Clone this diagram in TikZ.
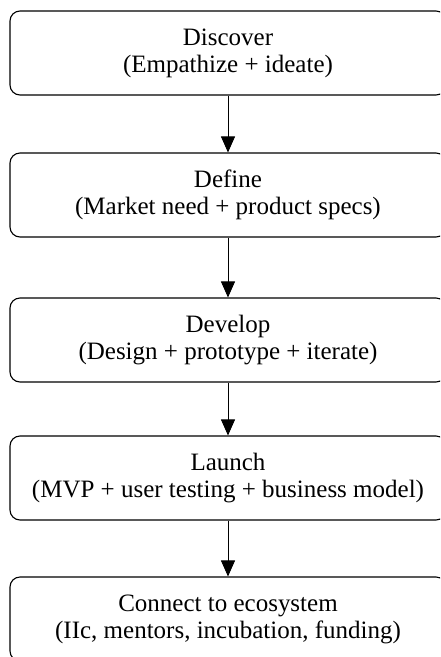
\documentclass[tikz,border=0pt]{standalone}
\usepackage{fontspec}
\setmainfont{Liberation Serif}
\usetikzlibrary{arrows.meta}
\tikzset{
  stagebox/.style={draw, line width=1.1pt, rounded corners=10pt, minimum width=436pt, minimum height=84pt, align=center, font=\fontsize{25}{27}\selectfont, inner sep=0pt},
  flow/.style={line width=0.9pt, -{Triangle[width=14pt,length=16pt]}}
}
\begin{document}
\begin{tikzpicture}[x=1pt,y=-1pt]
\useasboundingbox (0,0) rectangle (440,657);
\clip (0,0) rectangle (440,657);
\node[stagebox] (s1) at (228,53) {Discover\\(Empathize + ideate)};
\node[stagebox] (s2) at (228,195) {Define\\(Market need + product specs)};
\node[stagebox] (s3) at (228,340) {Develop\\(Design + prototype + iterate)};
\node[stagebox] (s4) at (228,478) {Launch\\(MVP + user testing + business model)};
\node[stagebox] (s5) at (228,619) {Connect to ecosystem\\(IIc, mentors, incubation, funding)};
\draw[flow] (s1) -- (s2);
\draw[flow] (s2) -- (s3);
\draw[flow] (s3) -- (s4);
\draw[flow] (s4) -- (s5);
\end{tikzpicture}
\end{document}
